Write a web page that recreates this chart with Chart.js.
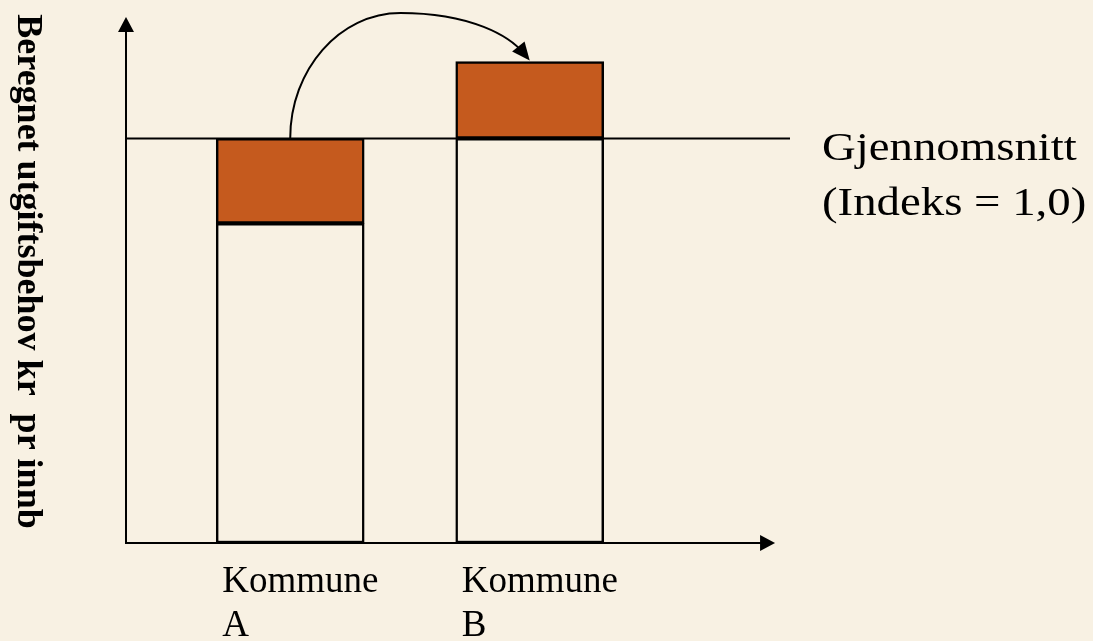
<!DOCTYPE html>
<html lang="no">
<head>
<meta charset="utf-8">
<title>Beregnet utgiftsbehov</title>
<script src="https://cdn.jsdelivr.net/npm/chart.js@4.4.1/dist/chart.umd.min.js"></script>
<style>
  html, body { margin: 0; padding: 0; background: #F8F1E3; }
  #wrap { width: 1093px; height: 641px; position: relative; }
</style>
</head>
<body>
<div id="wrap"><canvas id="ch"></canvas></div>
<script>
// data (indeks, gjennomsnitt = 1,0)
const kommuner = [['Kommune', 'A'], ['Kommune', 'B']];
const kommunePos = [2.53, 6.22];                 // plassering langs x-aksen
const utgiftsbehov = [0.79, 1.0];                // hvit søyle
const justering = [[0.79, 1.0], [1.0, 1.19]];    // oransje del
const gjennomsnitt = 1.0;
const snittTekst = ['Gjennomsnitt', '(Indeks = 1,0)'];
const yTittel = 'Beregnet utgiftsbehov kr  pr innb';
const xAkseSlutt = 10;
const snittLinjeSlutt = 10.23;
const yAkseSlutt = 1.3;
const bueTopp = 1.31;

const BG = '#F8F1E3', ORANSJE = '#C55A1E', SVART = '#000';
const SERIF = "'Liberation Serif', 'Times New Roman', serif";

function pil(ctx, x, y, ang, len, half) {
  ctx.save();
  ctx.translate(x, y); ctx.rotate(ang);
  ctx.beginPath(); ctx.moveTo(0, 0); ctx.lineTo(-len, -half); ctx.lineTo(-len, half); ctx.closePath();
  ctx.fill();
  ctx.restore();
}

const tegning = {
  id: 'tegning',
  beforeDatasetsDraw(chart) {
    const { ctx, scales: { x, y } } = chart;
    const x0 = x.getPixelForValue(0);
    ctx.save();
    ctx.strokeStyle = SVART; ctx.lineWidth = 2;
    // gjennomsnittslinje
    const ys = y.getPixelForValue(gjennomsnitt);
    ctx.beginPath(); ctx.moveTo(x0, ys); ctx.lineTo(x.getPixelForValue(snittLinjeSlutt), ys); ctx.stroke();
    ctx.restore();
  },
  afterDatasetsDraw(chart) {
    const { ctx, scales: { x, y } } = chart;
    const x0 = x.getPixelForValue(0), y0 = y.getPixelForValue(0);
    ctx.save();
    ctx.strokeStyle = SVART; ctx.fillStyle = SVART; ctx.lineWidth = 2;

    // akser med piler
    const yTop = y.getPixelForValue(yAkseSlutt);
    ctx.beginPath(); ctx.moveTo(x0, y0 + 1); ctx.lineTo(x0, yTop + 10); ctx.stroke();
    pil(ctx, x0, yTop, -Math.PI / 2, 15, 8);
    const xEnd = x.getPixelForValue(xAkseSlutt);
    ctx.beginPath(); ctx.moveTo(x0 - 1, y0); ctx.lineTo(xEnd - 10, y0); ctx.stroke();
    pil(ctx, xEnd, y0, 0, 15, 8);

    // bue fra A til B
    const p0 = { x: x.getPixelForValue(kommunePos[0]), y: y.getPixelForValue(justering[0][1]) };
    const p2 = { x: x.getPixelForValue(kommunePos[1]), y: y.getPixelForValue(justering[1][1]) - 1 };
    const p1 = { x: p0.x + (p2.x - p0.x) * 0.46, y: y.getPixelForValue(bueTopp) };
    ctx.beginPath();
    ctx.moveTo(p0.x, p0.y);
    ctx.bezierCurveTo(p0.x, p0.y - 0.55 * (p0.y - p1.y), p1.x - 0.55 * (p1.x - p0.x), p1.y, p1.x, p1.y);
    const c2 = { x: p2.x - 0.15 * (p2.x - p1.x), y: p2.y - 0.5 * (p2.y - p1.y) };
    ctx.bezierCurveTo(p1.x + 0.55 * (p2.x - p1.x), p1.y, c2.x, c2.y, p2.x - 6, p2.y - 7);
    ctx.stroke();
    pil(ctx, p2.x, p2.y, Math.atan2(p2.y - c2.y, p2.x - c2.x), 18, 8);

    // tekst ved snittlinjen (litt bredt satt, som i originalen)
    const ys = y.getPixelForValue(gjennomsnitt);
    const tx = x.getPixelForValue(snittLinjeSlutt) + 32;
    ctx.save();
    ctx.translate(tx, ys);
    ctx.scale(1.17, 1);
    ctx.font = '40px ' + SERIF;
    ctx.textAlign = 'left'; ctx.textBaseline = 'alphabetic';
    ctx.fillText(snittTekst[0], 0, 22);
    ctx.fillText(snittTekst[1], 0, 77);
    ctx.restore();

    // y-tittel, lest ovenfra og ned
    ctx.translate(27, y0 / 2);
    ctx.rotate(Math.PI / 2);
    ctx.font = 'bold 36px ' + SERIF;
    ctx.textAlign = 'center'; ctx.textBaseline = 'middle';
    ctx.fillText(yTittel, 0, 0);
    ctx.restore();
  }
};

new Chart(document.getElementById('ch'), {
  type: 'bar',
  data: {
    datasets: [
      {
        label: 'Justering',
        data: kommunePos.map((p, i) => ({ x: p, y: justering[i] })),
        backgroundColor: ORANSJE,
        borderColor: SVART,
        borderWidth: 2.5,
        borderSkipped: false,
        barThickness: 148,
        grouped: false
      },
      {
        label: 'Utgiftsbehov',
        data: kommunePos.map((p, i) => ({ x: p, y: utgiftsbehov[i] })),
        backgroundColor: BG,
        borderColor: SVART,
        borderWidth: 2.5,
        borderSkipped: false,
        barThickness: 148,
        grouped: false
      }
    ]
  },
  options: {
    responsive: true,
    maintainAspectRatio: false,
    animation: false,
    layout: { padding: { left: 126, right: 303, top: 17, bottom: 0 } },
    plugins: { legend: { display: false }, tooltip: { enabled: false } },
    scales: {
      x: {
        type: 'linear',
        offset: false,
        min: 0,
        max: snittLinjeSlutt,
        grid: { display: false, drawTicks: false },
        border: { display: false },
        afterBuildTicks: s => { s.ticks = kommunePos.map(v => ({ value: v })); },
        afterFit: s => { s.height = 98; s.paddingLeft = 0; s.paddingRight = 0; },
        ticks: {
          autoSkip: false,
          maxRotation: 0,
          align: 'start',
          labelOffset: -68,
          padding: 17,
          color: SVART,
          font: { family: SERIF, size: 37, lineHeight: 1.19 },
          callback: (v, i) => kommuner[i]
        }
      },
      y: { display: false, min: 0, max: yAkseSlutt }
    }
  },
  plugins: [tegning]
});
</script>
</body>
</html>
